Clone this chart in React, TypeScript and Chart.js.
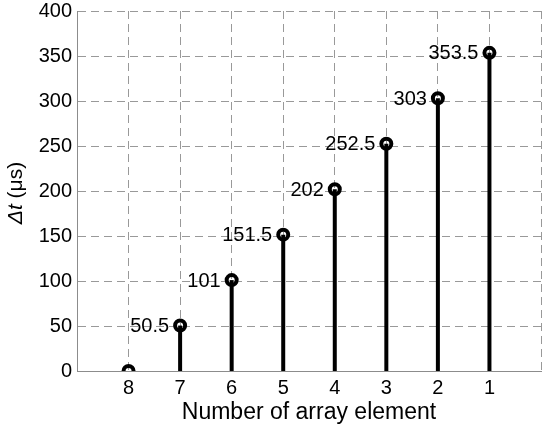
import React, { useEffect, useRef } from "react";
import { Chart, registerables } from "chart.js";

Chart.register(...registerables);

const elements = [8, 7, 6, 5, 4, 3, 2, 1];
const delays = [0, 50.5, 101, 151.5, 202, 252.5, 303, 353.5];
const delayLabels = ["", "50.5", "101", "151.5", "202", "252.5", "303", "353.5"];
const yTicks = [0, 50, 100, 150, 200, 250, 300, 350, 400];
const xTitle = "Number of array element";

const FONT = "Arial, 'Liberation Sans', sans-serif";

export default function App() {
  const ref = useRef<HTMLCanvasElement | null>(null);

  useEffect(() => {
    document.body.style.margin = "0";
    const canvas = ref.current;
    if (!canvas) return;

    const stemSets = elements.map((e, i) => ({
      type: "line" as const,
      data: [
        { x: e, y: 0 },
        { x: e, y: delays[i] },
      ],
      borderColor: "#000",
      borderWidth: 4,
      pointRadius: 0,
      order: 2,
    }));

    const labelPlugin = {
      id: "labels",
      afterDatasetsDraw(chart: any) {
        const ctx = chart.ctx;
        const idx = chart.data.datasets.length - 1;
        const meta = chart.getDatasetMeta(idx);
        ctx.save();
        ctx.font = `20px ${FONT}`;
        ctx.fillStyle = "#000";
        ctx.textAlign = "right";
        ctx.textBaseline = "middle";
        meta.data.forEach((pt: any, i: number) => {
          const t = delayLabels[i];
          if (t) ctx.fillText(t, pt.x - 11, pt.y + 1);
        });
        ctx.restore();
      },
      afterDraw(chart: any) {
        const ctx = chart.ctx;
        const area = chart.chartArea;
        ctx.save();
        ctx.fillStyle = "#000";
        // x title
        ctx.font = `23px ${FONT}`;
        ctx.textAlign = "center";
        ctx.textBaseline = "middle";
        ctx.fillText(xTitle, (area.left + area.right) / 2, 413);
        // y title with italic Δt
        ctx.translate(16, (area.top + area.bottom) / 2 + 2);
        ctx.rotate(-Math.PI / 2);
        const itFont = `italic 21px ${FONT}`;
        const nFont = `21px ${FONT}`;
        const a = "\u0394t";
        const b = " (\u03bcs)";
        ctx.font = itFont;
        const wa = ctx.measureText(a).width;
        ctx.font = nFont;
        const wb = ctx.measureText(b).width;
        const start = -(wa + wb) / 2;
        ctx.textAlign = "left";
        ctx.font = itFont;
        ctx.fillText(a, start, 0);
        ctx.font = nFont;
        ctx.fillText(b, start + wa, 0);
        ctx.restore();
      },
    };

    const chart = new Chart(canvas, {
      type: "scatter",
      data: {
        datasets: [
          ...stemSets,
          {
            type: "scatter" as const,
            data: elements.map((e, i) => ({ x: e, y: delays[i] })),
            pointStyle: "circle",
            pointRadius: 5,
            pointBorderWidth: 4,
            pointBackgroundColor: "rgba(0,0,0,0)",
            pointBorderColor: "#000",
            borderColor: "#000",
            backgroundColor: "rgba(0,0,0,0)",
            order: 0,
          },
        ] as any,
      },
      options: {
        responsive: false,
        animation: false,
        layout: { padding: { top: 11, right: 9, left: 0, bottom: 0 } },
        plugins: {
          legend: { display: false },
          tooltip: { enabled: false },
        },
        scales: {
          x: {
            type: "linear",
            min: 0,
            max: 9,
            reverse: true,
            afterBuildTicks: (scale: any) => {
              scale.ticks = [0, 1, 2, 3, 4, 5, 6, 7, 8, 9].map((v) => ({ value: v }));
            },
            afterFit: (scale: any) => {
              scale.height = 61;
              scale.paddingLeft = 0;
              scale.paddingRight = 0;
            },
            ticks: {
              autoSkip: false,
              maxRotation: 0,
              padding: 5,
              color: "#000",
              font: { family: FONT, size: 20 },
              callback: (v: any) => (v >= 1 && v <= 8 ? String(v) : ""),
            },
            grid: { color: "#999999", lineWidth: 1, drawTicks: false },
            border: { display: true, color: "#8c8c8c", width: 1, dash: [8, 5] },
          },
          y: {
            type: "linear",
            min: 0,
            max: 400,
            afterBuildTicks: (scale: any) => {
              scale.ticks = yTicks.map((v) => ({ value: v }));
            },
            afterFit: (scale: any) => {
              scale.width = 77;
              scale.paddingTop = 0;
              scale.paddingBottom = 0;
            },
            ticks: {
              padding: 5,
              color: "#000",
              font: { family: FONT, size: 20 },
            },
            grid: { color: "#999999", lineWidth: 1, drawTicks: false },
            border: { display: true, color: "#8c8c8c", width: 1, dash: [8, 5] },
          },
        },
      },
      plugins: [labelPlugin],
    });

    return () => chart.destroy();
  }, []);

  return (
    <div style={{ width: 550, height: 432, background: "#fff" }}>
      <canvas ref={ref} width={550} height={432} />
    </div>
  );
}
